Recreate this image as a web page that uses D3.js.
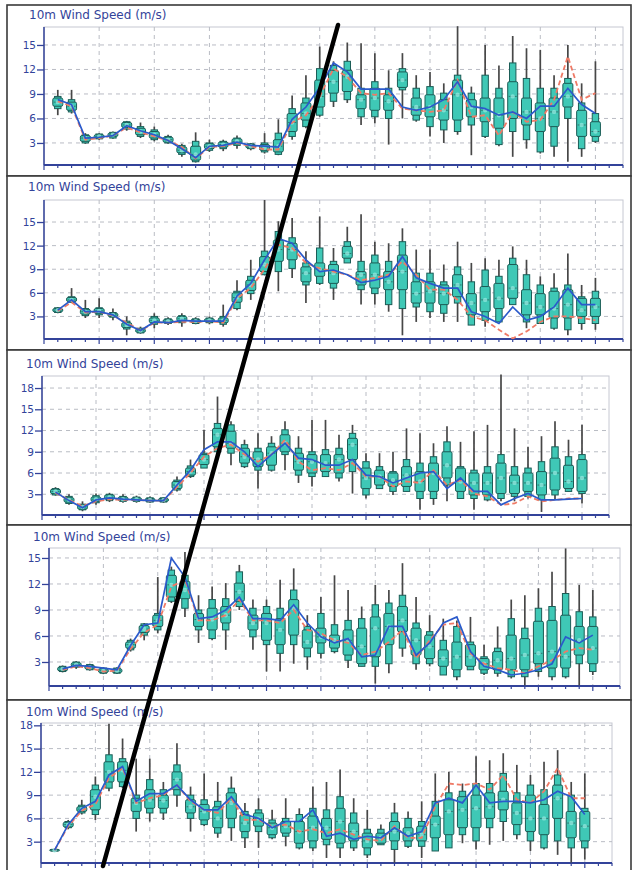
<!DOCTYPE html>
<html>
<head>
<meta charset="utf-8">
<script src="https://cdn.jsdelivr.net/npm/d3@7"></script>
<style>
  body { margin: 0; background: #fff; }
  svg { display: block; font-family: "DejaVu Sans", Verdana, sans-serif; }
</style>
</head>
<body>
<svg id="chart" width="634" height="870"></svg>
<script>
// ── data: 40 forecast boxes per panel (lo, p10, p25, median, p75, p90, hi) + two line series ──

const TITLE = '10m Wind Speed (m/s)';
const Y_TICKS_A = [3, 6, 9, 12, 15];
const Y_TICKS_B = [3, 6, 9, 12, 15, 18];

// panel 1
const P1_LO  = [6.4,6.6,2.9,3.4,3.5,4.5,3.6,3.2,2.9,1.3, 0.6,1.9,2.0,2.3,2.1,1.7,1.5,3.4,4.8,6.2, 7.4,7.9,5.2,5.4,2.8,6.0,5.6,3.8,3.0,4.0, 1.5,3.6,2.6,1.3,2.3,1.7,1.3,0.7,1.3,3.0];
const P1_P10 = [7.2,6.8,3.0,3.5,3.6,4.7,3.8,3.4,3.0,1.6, 0.7,2.1,2.3,2.7,2.3,1.9,1.6,3.8,5.0,6.4, 8.1,8.3,6.2,6.2,6.0,9.5,5.8,5.0,4.6,4.4, 5.2,3.8,2.8,4.4,3.4,1.9,2.6,6.0,2.3,3.2];
const P1_P25 = [7.5,7.0,3.2,3.6,3.8,4.9,4.0,3.6,3.1,1.8, 0.9,2.3,2.5,2.9,2.4,2.1,1.9,4.4,5.8,7.4, 9.1,9.3,7.2,7.0,7.0,9.8,6.4,6.2,5.8,5.8, 6.2,5.6,4.8,6.0,5.2,4.4,5.0,7.4,3.8,3.8];
const P1_MED = [8.0,7.5,3.6,3.8,4.0,5.2,4.4,4.0,3.4,2.1, 1.6,2.6,2.8,3.2,2.6,2.4,2.6,5.5,6.6,8.7, 10.5,11.1,8.3,8.5,8.1,10.7,7.4,7.4,7.0,8.9, 7.4,7.0,6.4,8.7,6.8,6.0,6.8,8.7,5.2,4.4];
const P1_P75 = [8.5,8.0,3.9,4.0,4.2,5.5,4.8,4.4,3.7,2.5, 2.6,2.9,3.1,3.5,2.8,2.8,3.4,6.6,7.9,10.7, 11.9,11.9,8.9,9.7,8.9,11.7,8.5,8.9,8.3,10.7, 8.3,8.5,8.5,10.5,8.5,7.9,8.5,10.3,7.0,5.6];
const P1_P90 = [8.7,8.3,4.0,4.1,4.3,5.6,5.0,4.6,3.8,2.7, 3.2,3.0,3.2,3.6,2.9,3.0,4.2,7.2,8.5,12.1, 12.5,13.0,9.7,10.5,9.7,12.1,9.7,9.9,9.1,11.3, 9.1,11.3,9.7,12.8,10.9,9.7,9.7,10.9,7.9,6.6];
const P1_HI  = [9.5,9.5,4.2,4.2,4.4,5.7,5.5,5.0,4.0,2.9, 4.3,3.4,3.4,3.9,3.0,4.2,5.9,8.8,11.3,14.8, 13.0,15.3,15.2,14.0,11.9,14.0,11.3,11.7,10.3,17.3, 9.9,15.0,12.5,16.1,14.6,14.4,11.3,15.0,10.3,13.0];
const P1_BLUE = [8.3,7.7,3.6,3.7,3.9,5.1,4.5,4.0,3.3,2.3, 1.2,2.6,2.7,3.1,2.7,2.6,2.5,5.9,7.4,9.8, 12.8,11.7,9.6,9.6,9.6,7.4,7.0,7.4,8.3,10.5, 7.5,7.2,6.4,6.8,6.0,7.5,7.5,9.7,7.7,6.6];
const P1_RED  = [8.1,7.5,3.4,3.6,3.9,4.9,4.3,3.8,3.3,2.5, 1.1,2.5,2.6,3.0,2.6,2.2,2.2,5.5,6.4,8.7, 12.1,11.1,9.1,8.9,9.1,7.2,7.0,6.8,7.0,10.7, 6.2,6.4,3.9,6.8,5.6,5.8,8.3,13.6,8.3,9.1];

// panel 2
const P2_LO  = [3.4,4.7,2.8,2.8,2.5,0.6,0.8,1.5,1.9,1.7, 2.0,2.0,1.7,3.8,5.1,8.3,6.2,7.9,4.7,7.0, 5.1,10.0,4.5,4.5,3.6,0.6,2.3,2.8,2.3,2.3, 1.9,1.7,2.3,4.5,1.5,2.1,1.3,0.6,1.3,1.3];
const P2_P10 = [3.5,4.8,3.1,3.2,2.9,1.4,0.9,2.0,2.1,2.2, 2.1,2.2,2.0,4.0,5.9,8.3,8.7,9.1,7.0,7.2, 6.6,9.8,6.4,5.9,4.5,4.0,4.2,3.6,3.4,4.7, 1.9,2.5,2.3,4.5,2.3,2.1,1.5,1.3,2.1,2.1];
const P2_P25 = [3.6,4.9,3.3,3.4,3.0,1.6,1.0,2.2,2.2,2.4, 2.2,2.3,2.2,4.8,6.3,8.7,10.0,10.2,7.4,8.1, 7.2,10.4,7.0,6.6,6.4,6.4,4.7,4.7,4.5,5.5, 3.2,3.6,4.0,5.3,3.2,3.2,2.8,2.8,3.0,3.0];
const P2_MED = [3.8,5.1,3.6,3.7,3.2,1.9,1.2,2.5,2.4,2.7, 2.4,2.5,2.5,5.4,7.0,9.6,11.5,11.5,8.5,9.0, 8.5,11.0,8.3,8.3,7.4,8.7,5.9,6.2,5.9,7.0, 4.7,5.1,5.3,6.6,4.7,4.2,4.0,4.5,3.8,4.2];
const P2_P75 = [4.0,5.4,3.9,4.0,3.4,2.2,1.4,2.8,2.6,3.0, 2.6,2.7,2.8,6.0,7.6,10.6,12.7,12.3,9.3,9.8, 9.6,11.9,8.7,9.8,8.7,10.8,7.4,7.4,7.0,8.3, 5.9,6.8,7.2,9.6,6.4,5.9,6.2,6.4,5.3,5.3];
const P2_P90 = [4.1,5.5,4.0,4.1,3.5,2.4,1.5,3.0,2.7,3.1, 2.7,2.8,3.0,6.2,8.1,11.3,13.8,13.0,9.8,11.7, 10.0,12.5,10.0,10.8,10.0,12.5,8.5,8.5,7.4,9.3, 7.4,8.9,8.1,10.4,8.3,7.0,6.6,7.0,5.5,6.2];
const P2_HI  = [4.2,6.6,5.1,5.3,4.0,3.0,1.7,3.4,2.9,3.4, 2.9,3.0,4.5,7.6,10.2,17.8,15.1,15.5,11.3,15.7, 11.7,14.4,16.0,12.5,12.3,14.2,11.5,11.5,9.6,12.5, 9.8,10.4,10.2,11.9,10.2,8.1,8.5,11.0,7.0,7.9];
const P2_BLUE = [3.8,5.1,3.6,3.6,3.2,2.0,1.2,2.3,2.2,2.5, 2.4,2.4,2.4,5.6,7.2,10.2,12.9,12.3,10.2,8.7, 8.9,8.3,7.3,7.6,8.1,10.6,7.9,7.2,6.6,6.6, 3.6,3.0,2.1,4.2,2.5,3.0,4.2,6.6,4.5,4.5];
const P2_RED  = [3.7,4.8,3.5,3.6,3.1,2.2,1.2,2.2,2.2,2.3, 2.3,2.4,2.2,5.3,6.6,9.0,12.1,11.7,9.8,9.1, 8.7,8.3,7.6,7.9,8.3,10.0,8.3,6.4,6.4,5.1, 3.0,2.5,1.3,0.2,1.1,2.3,3.0,3.0,2.8,2.5];

// panel 3
const P3_LO  = [2.8,1.5,0.6,1.5,1.9,1.8,1.8,1.8,1.8,3.4, 5.3,6.7,8.6,7.1,6.7,3.8,6.2,6.4,4.6,4.1, 5.5,4.8,3.1,2.4,3.8,2.9,3.4,0.8,1.5,2.0, 2.4,0.8,2.0,2.0,2.0,2.4,0.5,2.2,3.4,1.7];
const P3_P10 = [2.9,1.7,0.8,1.8,2.1,2.0,2.0,1.9,1.9,3.6, 5.5,6.7,9.0,8.8,6.9,6.4,6.4,8.6,5.7,5.5, 5.5,5.3,6.2,2.9,3.8,3.4,3.4,2.4,2.4,4.3, 2.4,2.4,2.2,2.4,2.7,2.7,2.2,2.9,3.4,3.1];
const P3_P25 = [3.1,1.9,0.9,2.0,2.3,2.1,2.1,2.0,2.0,3.8, 5.7,7.2,9.7,9.5,7.4,6.9,7.1,9.0,6.4,6.0, 6.2,6.0,7.9,3.8,4.3,4.1,4.1,3.4,3.4,5.3, 3.4,2.9,2.9,3.1,3.1,3.4,2.9,3.6,3.8,3.4];
const P3_MED = [3.4,2.2,1.2,2.3,2.6,2.3,2.3,2.2,2.2,4.3, 6.2,7.9,11.4,10.2,8.3,7.9,8.8,10.2,7.6,7.6, 7.4,7.9,10.0,5.3,5.5,5.0,5.7,4.8,6.0,7.1, 4.8,4.6,4.6,5.3,4.6,4.6,4.3,6.0,4.8,5.3];
const P3_P75 = [3.7,2.5,1.5,2.6,2.9,2.6,2.5,2.4,2.4,4.8, 6.7,8.6,12.3,11.9,9.5,9.0,9.7,11.4,8.8,8.6, 8.6,8.6,10.9,6.7,6.4,6.0,6.9,6.2,7.4,9.0, 6.7,6.0,6.0,7.4,5.7,6.0,6.2,8.1,7.1,7.9];
const P3_P90 = [3.8,2.7,1.6,2.8,3.0,2.7,2.6,2.5,2.5,5.0, 7.0,8.8,13.0,12.8,10.0,9.5,10.2,12.1,9.5,9.0, 9.3,9.5,11.6,7.6,6.9,6.2,7.9,7.4,8.3,10.4, 6.9,6.4,6.9,8.6,6.9,6.7,7.6,9.7,8.3,8.6];
const P3_HI  = [4.0,3.0,2.0,3.1,3.2,3.0,2.8,2.7,2.6,5.5, 7.9,12.1,16.8,13.3,10.7,11.6,11.2,13.3,11.2,13.5, 13.5,11.4,12.8,8.8,8.8,9.0,12.3,11.6,10.2,12.6, 10.4,11.9,12.8,19.9,12.3,9.7,11.2,13.3,10.7,12.8];
const P3_BLUE = [3.3,2.1,1.1,2.2,2.5,2.3,2.2,2.1,2.1,4.3, 6.4,9.3,10.4,10.4,9.0,6.9,8.6,10.2,8.1,7.9, 7.1,7.1,7.9,5.7,5.5,4.6,5.3,6.0,6.2,3.8, 5.3,3.4,3.4,1.5,2.4,3.1,2.2,2.2,2.3,2.4];
const P3_RED  = [3.2,2.2,1.3,2.0,2.3,2.2,2.2,2.1,2.1,4.0, 6.0,8.3,9.5,10.0,8.6,7.6,8.6,10.7,7.6,6.4, 6.7,6.4,7.4,5.5,5.5,4.1,4.8,4.6,6.4,4.3, 5.0,3.1,2.7,1.5,1.7,2.7,2.0,2.2,2.4,2.4];

// panel 4
const P4_LO  = [1.8,2.2,2.0,1.6,1.6,4.2,5.5,6.3,9.8,8.2, 5.2,5.5,4.4,9.0,4.4,1.9,1.9,2.8,2.1,3.4, 4.0,2.3,2.5,0.5,1.7,3.6,2.1,2.5,1.5,0.9, 2.1,1.5,1.3,1.1,0.3,1.3,0.9,1.1,0.3,1.5];
const P4_P10 = [1.9,2.4,2.1,1.7,1.7,4.4,6.1,6.7,10.0,9.2, 6.7,5.7,6.7,9.4,5.9,5.0,4.0,5.0,3.6,4.0, 4.2,3.2,2.5,2.5,2.8,4.6,2.8,2.8,1.5,1.3, 2.1,1.7,1.7,1.3,1.3,1.9,1.3,1.3,2.8,1.9];
const P4_P25 = [2.0,2.5,2.2,1.8,1.8,4.6,6.4,7.1,10.5,10.3, 7.1,6.7,7.5,10.0,6.7,5.5,5.0,6.1,4.6,5.2, 4.6,3.8,2.8,3.6,5.0,6.5,3.8,3.4,2.5,2.1, 2.5,2.1,2.1,2.1,2.1,2.8,2.3,2.3,3.8,2.8];
const P4_MED = [2.2,2.7,2.4,2.0,2.0,5.0,6.8,7.8,11.9,11.3, 7.9,7.9,8.4,11.1,7.5,7.5,6.7,9.2,5.3,5.9, 5.5,5.5,4.8,6.9,7.1,7.8,5.5,4.8,3.4,3.6, 3.6,2.8,3.2,3.4,3.8,4.0,4.2,3.6,5.5,4.6];
const P4_P75 = [2.4,2.9,2.6,2.2,2.2,5.3,7.2,8.4,13.0,12.3, 8.6,9.2,9.4,12.1,8.4,8.6,8.0,10.2,6.7,6.9, 6.1,6.7,6.9,8.2,8.6,9.4,6.9,6.1,4.4,5.3, 5.0,3.4,4.2,6.1,5.7,7.7,7.8,8.4,7.1,7.1];
const P4_P90 = [2.5,3.0,2.7,2.3,2.3,5.5,7.4,8.6,13.6,13.0, 9.0,10.2,10.3,13.4,9.2,9.4,9.2,11.3,7.1,8.6, 7.3,7.8,8.0,9.6,9.8,10.7,7.5,6.5,5.5,7.1, 5.3,3.6,4.6,8.0,6.9,9.2,9.4,10.9,8.8,8.2];
const P4_HI  = [2.6,3.1,2.8,2.4,2.4,5.7,7.5,12.8,14.0,15.7, 10.7,11.7,12.1,14.2,10.2,10.2,12.5,13.8,8.4,10.5, 13.0,11.3,9.4,11.9,11.3,14.4,10.5,8.4,8.0,7.8, 8.2,5.0,7.1,10.2,10.7,11.5,13.4,16.1,11.9,11.3];
const P4_BLUE = [2.2,2.6,2.5,2.3,2.1,4.9,7.3,7.5,15.0,12.8, 8.0,8.2,9.0,10.5,8.0,8.0,7.8,9.6,7.5,5.9, 5.2,5.7,3.6,3.8,7.1,7.1,3.8,5.2,7.5,8.2, 4.2,2.5,2.1,1.5,1.7,2.1,2.8,5.9,5.2,6.1];
const P4_RED  = [2.1,2.5,2.3,1.9,2.0,4.5,6.4,7.3,11.7,12.5, 7.8,7.8,8.4,10.2,7.8,7.8,7.5,9.0,6.7,6.3, 5.5,5.2,3.8,4.2,5.3,6.7,3.4,5.5,7.3,7.5, 4.0,2.8,2.3,2.1,1.7,2.5,3.2,4.2,4.6,4.4];

// panel 5
const P5_LO  = [1.8,4.6,6.5,5.8,9.5,9.9,4.3,5.6,5.8,7.5, 4.3,5.0,3.5,3.1,2.2,2.2,3.3,2.4,2.0,1.8, 0.9,0.9,1.8,0.9,2.6,0.3,2.2,0.9,1.8,2.2, 2.8,2.0,2.6,3.1,3.3,1.8,2.0,1.3,0.3,0.7];
const P5_P10 = [1.8,4.8,6.7,6.5,9.9,10.1,6.0,6.7,6.7,9.0, 6.0,5.2,4.1,4.8,3.5,4.3,3.5,3.7,2.2,2.2, 2.6,2.2,2.2,1.3,2.6,2.0,2.4,2.4,1.8,2.2, 3.9,3.1,4.8,5.6,3.9,3.1,2.2,3.1,2.2,2.2];
const P5_P25 = [1.8,4.9,6.9,7.1,10.7,10.7,6.9,7.3,7.3,9.7, 6.7,5.8,4.8,6.0,4.3,5.0,3.9,4.1,2.8,3.1, 3.3,2.8,3.1,2.2,2.8,3.1,3.1,3.1,3.5,3.9, 4.8,4.8,6.0,7.1,5.2,4.3,3.9,6.0,3.5,3.1];
const P5_MED = [1.9,5.2,7.2,8.8,12.0,12.2,8.0,8.4,8.3,11.0, 7.5,6.9,6.0,8.0,5.4,6.0,4.8,5.0,4.3,4.8, 4.8,5.6,4.3,3.1,3.5,4.3,4.1,3.9,5.2,6.9, 7.1,7.3,7.5,8.4,6.7,6.0,6.0,8.6,5.4,5.0];
const P5_P75 = [2.0,5.5,7.5,9.7,13.3,13.3,8.6,9.7,9.0,12.0, 8.4,7.8,7.5,9.3,6.5,6.7,5.4,5.6,5.6,6.3, 6.0,7.3,5.4,4.1,4.1,5.6,4.8,5.0,6.3,8.4, 8.8,9.0,9.3,9.5,8.0,9.0,7.8,10.3,6.9,6.9];
const P5_P90 = [2.0,5.6,7.7,10.3,14.2,13.7,9.0,11.0,9.7,12.9, 9.0,8.4,8.2,9.9,6.9,7.1,5.8,6.0,6.5,7.3, 7.1,8.8,6.7,4.6,4.6,6.7,6.0,5.6,8.2,9.3, 9.5,10.5,10.5,11.8,9.3,10.3,9.7,11.6,9.0,7.3];
const P5_HI  = [2.0,5.8,8.4,11.4,18.2,16.3,13.7,13.7,10.7,15.7, 10.1,11.8,10.7,11.4,8.0,8.6,7.1,8.6,7.3,10.1, 10.7,12.3,8.6,7.1,5.2,8.0,6.9,8.2,11.8,12.0, 10.5,14.0,13.5,14.4,12.9,11.6,13.3,14.8,10.7,11.8];
const P5_BLUE = [1.9,5.2,7.3,8.2,11.6,12.7,8.2,9.2,9.2,10.3, 8.4,7.1,7.1,8.8,6.5,6.0,4.8,5.6,5.6,7.1, 3.7,4.1,3.3,3.7,3.5,4.8,3.7,4.3,8.0,8.6, 8.0,10.3,8.0,8.2,8.2,8.0,8.4,9.5,8.8,6.5];
const P5_RED  = [1.9,5.0,7.0,7.8,11.2,12.5,8.0,8.6,9.0,10.3, 8.2,7.1,6.7,8.6,5.8,5.8,5.0,5.2,4.3,4.6, 4.1,4.6,3.9,3.3,3.1,5.0,3.5,3.5,7.5,10.5, 10.3,10.5,9.7,11.6,8.4,8.0,9.5,12.5,8.6,8.6];

// ── layout (pixels) ──────────────────────────────────────────────────────────

const PANELS = [
  { frame: [5, 176],   title: [29, 19],  xr: [44, 623], yr: [165, 27],  dom: [0.3, 17.2],  ticks: Y_TICKS_A,
    s: [P1_LO, P1_P10, P1_P25, P1_MED, P1_P75, P1_P90, P1_HI], blue: P1_BLUE, red: P1_RED },
  { frame: [176, 350], title: [28, 191], xr: [44, 623], yr: [339, 200], dom: [0.13, 17.8], ticks: Y_TICKS_A,
    s: [P2_LO, P2_P10, P2_P25, P2_MED, P2_P75, P2_P90, P2_HI], blue: P2_BLUE, red: P2_RED },
  { frame: [350, 525], title: [26, 368], xr: [42, 609], yr: [515, 376], dom: [0.07, 19.7], ticks: Y_TICKS_B,
    s: [P3_LO, P3_P10, P3_P25, P3_MED, P3_P75, P3_P90, P3_HI], blue: P3_BLUE, red: P3_RED },
  { frame: [525, 700], title: [33, 541], xr: [49, 620], yr: [686, 548], dom: [0.23, 16.15], ticks: Y_TICKS_A,
    s: [P4_LO, P4_P10, P4_P25, P4_MED, P4_P75, P4_P90, P4_HI], blue: P4_BLUE, red: P4_RED },
  { frame: [700, 875], title: [26, 716], xr: [41, 612], yr: [863, 723], dom: [0.25, 18.3], ticks: Y_TICKS_B,
    s: [P5_LO, P5_P10, P5_P25, P5_MED, P5_P75, P5_P90, P5_HI], blue: P5_BLUE, red: P5_RED },
];

const NAVY = '#33439a';
const GRID = '#b9bcc4';
const BOX_FILL = '#3fc8b6';
const BOX_EDGE = '#1b5c56';

const svg = d3.select('#chart');

PANELS.forEach((p, pi) => {
  const g = svg.append('g');
  const x = d3.scaleLinear().domain([0, 42]).range(p.xr);
  const y = d3.scaleLinear().domain(p.dom).range(p.yr);
  const [x0, x1] = p.xr, [yb, yt] = p.yr;

  // panel frame
  g.append('rect')
    .attr('x', 7).attr('y', p.frame[0])
    .attr('width', 624).attr('height', p.frame[1] - p.frame[0])
    .attr('fill', '#fff').attr('stroke', '#3a3a3a').attr('stroke-width', 1.6);

  g.append('text')
    .attr('x', p.title[0]).attr('y', p.title[1])
    .attr('fill', NAVY).attr('font-size', 12)
    .text(TITLE);

  // plot box
  g.append('rect')
    .attr('x', x0).attr('y', yt).attr('width', x1 - x0).attr('height', yb - yt)
    .attr('fill', '#fff').attr('stroke', '#c6c8d2').attr('stroke-width', 1);

  // grid
  g.append('g').selectAll('line').data(p.ticks).join('line')
    .attr('x1', x0).attr('x2', x1)
    .attr('y1', d => y(d)).attr('y2', d => y(d))
    .attr('stroke', GRID).attr('stroke-width', 1).attr('stroke-dasharray', '4,4');
  g.append('g').selectAll('line').data(d3.range(4, 41, 4)).join('line')
    .attr('x1', d => x(d)).attr('x2', d => x(d))
    .attr('y1', yt).attr('y2', yb)
    .attr('stroke', GRID).attr('stroke-width', 1).attr('stroke-dasharray', '4,4');

  // y axis
  const ya = g.append('g').attr('transform', `translate(${x0},0)`)
    .call(d3.axisLeft(y).tickValues(p.ticks).tickSize(7).tickPadding(1));
  ya.select('.domain').remove();
  ya.selectAll('line').attr('stroke', NAVY).attr('stroke-width', 1.3);
  ya.selectAll('text').attr('fill', NAVY).attr('font-size', 10.5)
    .attr('font-family', '"DejaVu Sans", sans-serif');
  g.append('line').attr('x1', x0).attr('x2', x0).attr('y1', yt).attr('y2', yb)
    .attr('stroke', NAVY).attr('stroke-width', 1.5);

  // x axis ticks (no labels)
  g.append('g').selectAll('line').data(d3.range(0, 43)).join('line')
    .attr('x1', d => x(d)).attr('x2', d => x(d))
    .attr('y1', yb).attr('y2', d => yb + (d % 4 === 0 ? 5 : 3))
    .attr('stroke', NAVY).attr('stroke-width', 1.2);
  g.append('line').attr('x1', x0).attr('x2', x1).attr('y1', yb).attr('y2', yb)
    .attr('stroke', NAVY).attr('stroke-width', 2);

  // boxes
  const [lo, p10, p25, med, p75, p90, hi] = p.s;
  const idx = d3.range(lo.length);
  const bx = i => x(i + 1);
  const bg = g.append('g');

  bg.selectAll('line.wh').data(idx).join('line').attr('class', 'wh')
    .attr('x1', bx).attr('x2', bx)
    .attr('y1', i => y(hi[i])).attr('y2', i => y(lo[i]))
    .attr('stroke', '#474747').attr('stroke-width', 1.7);

  bg.selectAll('rect.outer').data(idx).join('rect').attr('class', 'outer')
    .attr('x', i => bx(i) - 3.2).attr('width', 6.4)
    .attr('y', i => y(p90[i])).attr('height', i => Math.max(1, y(p10[i]) - y(p90[i])))
    .attr('fill', BOX_FILL).attr('stroke', BOX_EDGE).attr('stroke-width', 1);

  bg.selectAll('rect.inner').data(idx).join('rect').attr('class', 'inner')
    .attr('x', i => bx(i) - 5).attr('width', 10)
    .attr('y', i => y(p75[i])).attr('height', i => Math.max(1, y(p25[i]) - y(p75[i])))
    .attr('rx', 1.5)
    .attr('fill', BOX_FILL).attr('stroke', BOX_EDGE).attr('stroke-width', 1);

  bg.selectAll('line.med').data(idx).join('line').attr('class', 'med')
    .attr('x1', i => bx(i) - 4).attr('x2', i => bx(i) + 4)
    .attr('y1', i => y(med[i])).attr('y2', i => y(med[i]))
    .attr('stroke', '#2a7a72').attr('stroke-width', 1);

  bg.selectAll('circle.med').data(idx).join('circle').attr('class', 'med')
    .attr('cx', bx).attr('cy', i => y(med[i])).attr('r', 2.2)
    .attr('fill', '#8fe6dc').attr('opacity', 0.8);

  // lines
  const clipId = `clip${pi}`;
  svg.append('clipPath').attr('id', clipId).append('rect')
    .attr('x', x0).attr('y', yt).attr('width', x1 - x0).attr('height', yb - yt);

  const line = d3.line().x((d, i) => x(i + 1)).y(d => y(d));
  g.append('path').datum(p.red)
    .attr('d', line).attr('clip-path', `url(#${clipId})`)
    .attr('fill', 'none').attr('stroke', '#ef7a66').attr('stroke-width', 1.8)
    .attr('stroke-dasharray', '5,3');
  g.append('path').datum(p.blue)
    .attr('d', line).attr('clip-path', `url(#${clipId})`)
    .attr('fill', 'none').attr('stroke', '#2b5acb').attr('stroke-width', 1.7);
});

// hand-drawn black diagonal across the panels
svg.append('line')
  .attr('x1', 338).attr('y1', 25).attr('x2', 103).attr('y2', 866)
  .attr('stroke', '#000').attr('stroke-width', 4.5).attr('stroke-linecap', 'round');
</script>
</body>
</html>
